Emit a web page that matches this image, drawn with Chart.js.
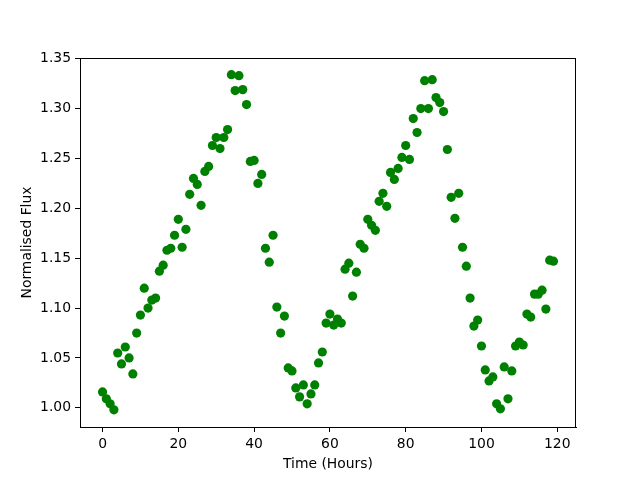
<!DOCTYPE html>
<html>
<head>
<meta charset="utf-8">
<script src="https://cdn.jsdelivr.net/npm/chart.js@4"></script>
<style>
html,body{margin:0;padding:0;background:#fff;}
#wrap{width:640px;height:480px;position:relative;}
</style>
</head>
<body>
<div id="wrap"><canvas id="c" width="640" height="480"></canvas></div>
<script>
const hours = [];
for (let i = 0; i < 120; i++) hours.push(i);
const flux = [
1.016,1.009,1.004,0.998,1.055,1.044,1.061,1.050,1.034,1.075,
1.093,1.120,1.100,1.108,1.110,1.137,1.143,1.158,1.160,1.173,
1.189,1.161,1.179,1.214,1.230,1.224,1.203,1.237,1.242,1.263,
1.271,1.260,1.271,1.279,1.334,1.318,1.333,1.319,1.304,1.247,
1.248,1.225,1.234,1.160,1.146,1.173,1.101,1.075,1.092,1.040,
1.037,1.020,1.011,1.023,1.004,1.014,1.023,1.045,1.056,1.085,
1.094,1.083,1.089,1.085,1.139,1.145,1.112,1.136,1.164,1.160,
1.189,1.183,1.178,1.207,1.215,1.202,1.236,1.229,1.240,1.251,
1.263,1.249,1.290,1.276,1.300,1.328,1.300,1.329,1.311,1.306,
1.297,1.259,1.211,1.190,1.215,1.161,1.142,1.110,1.082,1.088,
1.062,1.038,1.027,1.031,1.004,0.999,1.041,1.009,1.037,1.062,
1.066,1.063,1.094,1.091,1.114,1.114,1.118,1.099,1.148,1.147
];
const xTicks = [0,20,40,60,80,100,120];
const yTicks = [1.00,1.05,1.10,1.15,1.20,1.25,1.30,1.35];

const points = hours.map((h, i) => ({x: h, y: flux[i]}));
const FONT = 'DejaVu Sans';

const frame = {
  id: 'frame',
  afterDatasetsDraw(chart) {
    const a = chart.chartArea, ctx = chart.ctx;
    ctx.save();
    ctx.strokeStyle = '#000';
    ctx.lineWidth = 1;
    ctx.strokeRect(Math.round(a.left) + 0.5, Math.round(a.top) + 0.5,
                   Math.round(a.right - a.left) - 1, Math.round(a.bottom - a.top));
    ctx.restore();
  }
};

new Chart(document.getElementById('c'), {
  type: 'scatter',
  data: {
    datasets: [{
      data: points,
      backgroundColor: '#008000',
      borderColor: '#008000',
      borderWidth: 0,
      pointRadius: 4.6,
      pointHoverRadius: 4.6
    }]
  },
  plugins: [frame],
  options: {
    responsive: false,
    animation: false,
    devicePixelRatio: 1,
    layout: { padding: { top: 58, right: 64, left: 0, bottom: 0 } },
    plugins: { legend: { display: false }, tooltip: { enabled: false } },
    scales: {
      x: {
        type: 'linear',
        min: -5.95, max: 124.95,
        afterBuildTicks: s => { s.ticks = xTicks.map(v => ({value: v})); },
        afterFit: s => { s.height = 53; },
        grid: { drawOnChartArea: false, drawTicks: true, tickLength: 5, color: '#000', tickColor: '#000' },
        border: { display: true, color: '#000' },
        ticks: { color: '#000', padding: 4, font: { family: FONT, size: 13.9 }, maxRotation: 0,
                 callback: v => String(v) },
        title: { display: true, text: 'Time (Hours)', color: '#000',
                 font: { family: FONT, size: 13.9 }, padding: { top: 0, bottom: 7 } }
      },
      y: {
        type: 'linear',
        min: 0.9808, max: 1.3507,
        afterBuildTicks: s => { s.ticks = yTicks.map(v => ({value: v})); },
        afterFit: s => { s.width = 80; },
        grid: { drawOnChartArea: false, drawTicks: true, tickLength: 5, color: '#000', tickColor: '#000' },
        border: { display: true, color: '#000' },
        ticks: { color: '#000', padding: 4, font: { family: FONT, size: 13.9 },
                 callback: v => v.toFixed(2) },
        title: { display: true, text: 'Normalised Flux', color: '#000',
                 font: { family: FONT, size: 13.9 }, padding: { top: 19, bottom: 0 } }
      }
    }
  }
});
</script>
</body>
</html>
